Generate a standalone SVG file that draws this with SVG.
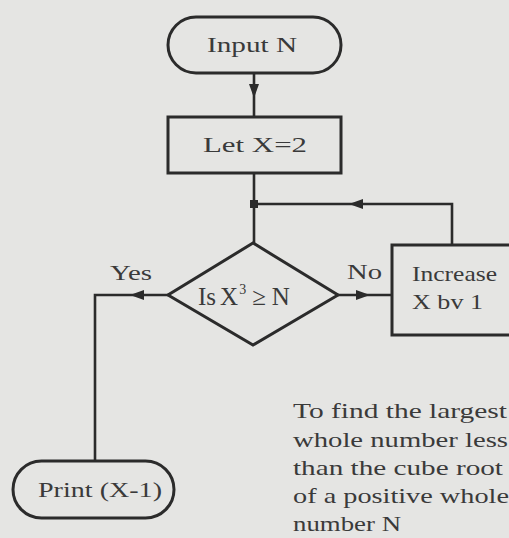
<svg xmlns="http://www.w3.org/2000/svg" xmlns:xlink="http://www.w3.org/1999/xlink" width="509" height="538" viewBox="0 0 509 538">
<style>
.bg{fill:#e5e5e3}
.sh{fill:none;stroke:#2b2b2b;stroke-width:3}
.ln{fill:none;stroke:#2b2b2b;stroke-width:2.6}
.t{font-family:"Liberation Serif","DejaVu Serif",serif;font-size:22px;fill:#3a3a3a}
.big{font-size:25px}
.sup{font-size:14px}
.ah{fill:#2b2b2b}
</style>
<defs>
<path id="ah" d="M-8,-5 L6,0 L-8,5 Z"/>
</defs>
<rect class="bg" x="0" y="0" width="509" height="538"/>
<g id="connectors">
<path class="ln" d="M254,73 V117"/>
<path class="ln" d="M254,173 V243"/>
<path class="ln" d="M452,245 V204 H254"/>
<path class="ln" d="M338,295 H392"/>
<path class="ln" d="M168,295 H95 V460"/>
<use xlink:href="#ah" class="ah" transform="translate(254,92) rotate(90)"/>
<use xlink:href="#ah" class="ah" transform="translate(355,204) rotate(180)"/>
<use xlink:href="#ah" class="ah" transform="translate(364,295)"/>
<use xlink:href="#ah" class="ah" transform="translate(136,295) rotate(180)"/>
<rect class="ah" x="250" y="200" width="8" height="8"/>
</g>
<g id="input">
<rect class="sh" x="168" y="17" width="173" height="56" rx="28"/>
<text class="t" x="207" y="52" textLength="90" lengthAdjust="spacingAndGlyphs">Input N</text>
</g>
<g id="letx">
<rect class="sh" x="168" y="117" width="173" height="56"/>
<text class="t" x="203" y="152" textLength="104" lengthAdjust="spacingAndGlyphs">Let X=2</text>
</g>
<g id="decision">
<path class="sh" d="M253,243 L338,295 L253,345 L168,295 Z"/>
<text class="t big" x="198" y="305">Is<tspan dx="4">X</tspan><tspan class="sup" dx="1" dy="-11">3</tspan><tspan dx="6" dy="11">≥</tspan><tspan dx="6">N</tspan></text>
<text class="t" x="110" y="280" textLength="42" lengthAdjust="spacingAndGlyphs">Yes</text>
<text class="t" x="347" y="279" textLength="35" lengthAdjust="spacingAndGlyphs">No</text>
</g>
<g id="increase">
<rect class="sh" x="392" y="245" width="130" height="90"/>
<text class="t" x="412" y="281" textLength="85" lengthAdjust="spacingAndGlyphs">Increase</text>
<text class="t" x="412" y="309" textLength="71" lengthAdjust="spacingAndGlyphs">X bv 1</text>
</g>
<g id="print">
<rect class="sh" x="13" y="461" width="161" height="57" rx="28.5"/>
<text class="t" x="38" y="497" textLength="124" lengthAdjust="spacingAndGlyphs">Print (X-1)</text>
</g>
<g id="caption">
<text class="t" x="293" y="418" textLength="214" lengthAdjust="spacingAndGlyphs">To find the largest</text>
<text class="t" x="293" y="447" textLength="215" lengthAdjust="spacingAndGlyphs">whole number less</text>
<text class="t" x="293" y="475" textLength="210" lengthAdjust="spacingAndGlyphs">than the cube root</text>
<text class="t" x="293" y="503" textLength="216" lengthAdjust="spacingAndGlyphs">of a positive whole</text>
<text class="t" x="293" y="531" textLength="108" lengthAdjust="spacingAndGlyphs">number N</text>
</g>
</svg>
